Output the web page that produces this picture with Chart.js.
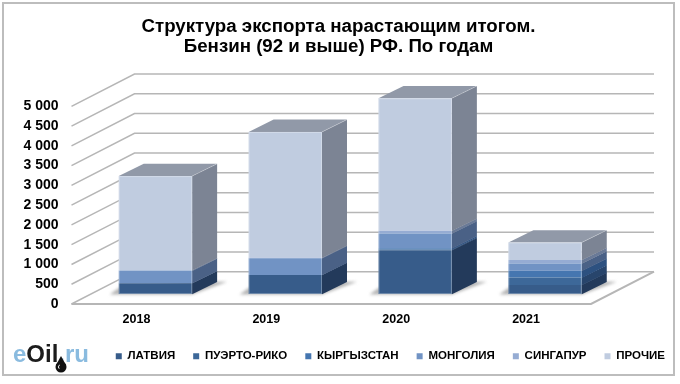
<!DOCTYPE html>
<html lang="ru">
<head>
<meta charset="utf-8">
<title>Структура экспорта</title>
<script src="https://cdn.jsdelivr.net/npm/chart.js@4"></script>
<style>
    body { margin: 0; background: #fff; }
    canvas { display: block; }
</style>
</head>
<body>
<canvas id="chart" width="680" height="384"></canvas>
<script>
// --- DATA ---
const years = ['2018', '2019', '2020', '2021'];
const latvia = [272, 483, 1105, 230];
const puertoRico = [0, 0, 20, 185];
const kyrgyzstan = [0, 0, 30, 170];
const mongolia = [313, 424, 378, 185];
const singapore = [15, 10, 68, 90];
const other = [2382, 3183, 3349, 444];
const seriesNames = ['ЛАТВИЯ', 'ПУЭРТО-РИКО', 'КЫРГЫЗСТАН', 'МОНГОЛИЯ', 'СИНГАПУР', 'ПРОЧИЕ'];
const seriesValues = [latvia, puertoRico, kyrgyzstan, mongolia, singapore, other];
const frontColors = ['#375c8a', '#3d6899', '#4576b0', '#7193c4', '#96acd3', '#c0cce0'];
const sideColors = ['#233a5b', '#28456c', '#2d5180', '#4a6186', '#6a7a97', '#7c8494'];
const topColor = '#9199a8';
const gridColor = '#b6b6b6';

// глубина 3D-коробки и столбиков, px
const FRONT_DX = -19, FRONT_DY = 10;
const BACK_DX = 44, BACK_DY = -22.3;
const BAR_DX = 25, BAR_DY = 12.3;

function poly(ctx, pts, fill) {
    ctx.beginPath();
    pts.forEach((p, i) => i ? ctx.lineTo(p[0], p[1]) : ctx.moveTo(p[0], p[1]));
    ctx.closePath();
    if (fill) { ctx.fillStyle = fill; ctx.fill(); }
}

function line(ctx, pts) {
    ctx.beginPath();
    pts.forEach((p, i) => i ? ctx.lineTo(p[0], p[1]) : ctx.moveTo(p[0], p[1]));
    ctx.stroke();
}

// рамка, стены, пол, боковые грани
const box3d = {
    id: 'box3d',
    beforeDraw(chart) {
        const ctx = chart.ctx;
        ctx.save();
        ctx.fillStyle = '#fff';
        ctx.fillRect(0, 0, chart.width, chart.height);
        ctx.strokeStyle = '#bdbdbd';
        ctx.lineWidth = 2;
        ctx.strokeRect(3, 3, 671, 372);
        ctx.restore();
    },
    beforeDatasetsDraw(chart) {
        const ctx = chart.ctx;
        const area = chart.chartArea;
        const yScale = chart.scales.y;
        ctx.save();
        ctx.strokeStyle = gridColor;
        ctx.lineWidth = 1.5;
        yScale.ticks.forEach(t => {
            const y = yScale.getPixelForValue(t.value);
            line(ctx, [
                [area.left + FRONT_DX, y + FRONT_DY],
                [area.left + BACK_DX, y + BACK_DY],
                [area.right + BACK_DX, y + BACK_DY]
            ]);
        });
        // пол
        const y0 = yScale.getPixelForValue(0);
        ctx.lineWidth = 2;
        line(ctx, [
            [area.left + FRONT_DX, y0 + FRONT_DY],
            [area.right + FRONT_DX, y0 + FRONT_DY],
            [area.right + BACK_DX, y0 + BACK_DY]
        ]);

        const metas = chart.data.datasets.map((d, i) => chart.getDatasetMeta(i));
        years.forEach((year, j) => {
            const last = metas[metas.length - 1].data[j];
            const l = last.x - last.width / 2;
            const r = last.x + last.width / 2;
            // тень
            ctx.save();
            ctx.filter = 'blur(1.5px)';
            poly(ctx, [[l - 9, y0 + 0.5], [r, y0 + 0.5], [r + BAR_DX + 10, y0 - BAR_DY], [r, y0 - BAR_DY], [l, y0 - 6]], '#b4b4b4');
            ctx.restore();
            // боковые грани по сегментам
            metas.forEach((meta, i) => {
                const el = meta.data[j];
                if (el.base - el.y < 0.1) return;
                poly(ctx, [
                    [r, el.base + 0.3], [r + BAR_DX, el.base - BAR_DY + 0.3],
                    [r + BAR_DX, el.y - BAR_DY], [r, el.y]
                ], sideColors[i]);
            });
            // верх
            poly(ctx, [
                [l, last.y], [l + BAR_DX, last.y - BAR_DY],
                [r + BAR_DX, last.y - BAR_DY], [r, last.y]
            ], topColor);
            ctx.strokeStyle = 'rgba(255,255,255,0.25)';
            ctx.lineWidth = 1;
            line(ctx, [[r, last.y], [r + BAR_DX, last.y - BAR_DY]]);
        });
        ctx.restore();
    },
    afterDatasetsDraw(chart) {
        // светлая кромка передней грани
        const ctx = chart.ctx;
        const metas = chart.data.datasets.map((d, i) => chart.getDatasetMeta(i));
        ctx.save();
        ctx.strokeStyle = 'rgba(255,255,255,0.28)';
        ctx.lineWidth = 1;
        years.forEach((year, j) => {
            const last = metas[metas.length - 1].data[j];
            const first = metas[0].data[j];
            ctx.strokeRect(last.x - last.width / 2 + 0.5, last.y + 0.5, last.width - 1, first.base - last.y - 1);
        });
        ctx.restore();
    },
    afterDraw(chart) {
        // логотип
        const ctx = chart.ctx;
        ctx.save();
        ctx.font = 'bold 24px "Liberation Sans"';
        ctx.textBaseline = 'alphabetic';
        let x = 13;
        [['e', '#8abbdf'], ['Oil', '#1c1c1c'], ['.ru', '#8abbdf']].forEach(part => {
            ctx.fillStyle = part[1];
            ctx.fillText(part[0], x, 362);
            x += ctx.measureText(part[0]).width;
        });
        ctx.fillStyle = '#111';
        ctx.beginPath();
        ctx.arc(61, 367, 5.5, 0, Math.PI * 2);
        ctx.fill();
        poly(ctx, [[61, 356], [56, 365], [66, 365]], '#111');
        ctx.strokeStyle = '#fff';
        ctx.lineWidth = 1;
        ctx.beginPath();
        ctx.arc(61, 367, 2.5, 2.4, 4.2);
        ctx.stroke();
        ctx.restore();
    }
};

new Chart(document.getElementById('chart'), {
    type: 'bar',
    data: {
        labels: years,
        datasets: seriesNames.map((name, i) => ({
            label: name,
            data: seriesValues[i],
            backgroundColor: frontColors[i],
            borderWidth: 0
        }))
    },
    plugins: [box3d],
    options: {
        responsive: false,
        animation: false,
        barPercentage: 0.565,
        categoryPercentage: 1,
        layout: { padding: { left: -6, right: -3, top: 0, bottom: 12 } },
        plugins: {
            tooltip: { enabled: false },
            title: {
                display: true,
                text: ['Структура экспорта нарастающим итогом.', 'Бензин (92 и выше) РФ. По годам'],
                color: '#000',
                font: { family: '"Liberation Sans"', size: 18.7, weight: 'bold', lineHeight: 1.07 },
                padding: { top: 17, bottom: 39.3 }
            },
            legend: {
                position: 'bottom',
                align: 'end',
                labels: {
                    color: '#000',
                    boxWidth: 6,
                    boxHeight: 6,
                    padding: 18,
                    font: { family: '"Liberation Sans"', size: 11.5, weight: 'bold' }
                }
            }
        },
        scales: {
            x: {
                stacked: true,
                grid: { display: false },
                border: { display: false },
                afterFit(scale) { scale.height = 38.5; },
                ticks: {
                    color: '#000',
                    padding: 10.5,
                    labelOffset: -19,
                    maxRotation: 0,
                    font: { family: '"Liberation Sans"', size: 12.5, weight: 'bold' }
                }
            },
            y: {
                stacked: true,
                min: 0,
                max: 5000,
                grid: { display: false },
                border: { display: false },
                afterFit(scale) { scale.width = 96.5; },
                ticks: {
                    stepSize: 500,
                    autoSkip: false,
                    color: '#000',
                    padding: 24,
                    labelOffset: 10,
                    font: { family: '"Liberation Sans"', size: 14, weight: 'bold' },
                    callback: v => String(v).replace(/\B(?=(\d{3})+$)/, ' ')
                }
            },
            // пустая ось справа, чтобы оставить место под глубину коробки
            right: {
                position: 'right',
                display: true,
                grid: { display: false },
                border: { display: false },
                ticks: { display: false },
                afterFit(scale) { scale.width = 73; }
            }
        }
    }
});
</script>
</body>
</html>
